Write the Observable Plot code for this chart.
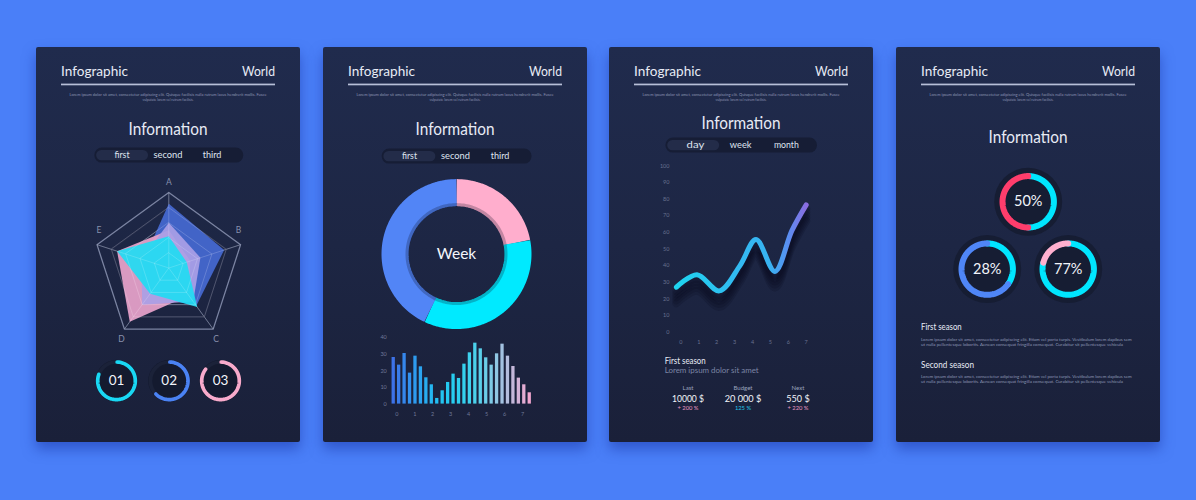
<!DOCTYPE html>
<html><head><meta charset="utf-8">
<script src="https://cdn.jsdelivr.net/npm/d3@7"></script>
<script src="https://cdn.jsdelivr.net/npm/@observablehq/plot@0.6"></script>
<style>
html,body{margin:0;padding:0;background:#4a7ff8;}
#page{position:relative;width:1196px;height:500px;overflow:hidden;background:#4a7ff8;}
.card{position:absolute;top:46.5px;width:264px;height:395px;background:linear-gradient(180deg,#202b4d 0%,#1d2644 50%,#1a2039 100%);box-shadow:0 7px 13px rgba(22,48,160,0.5);border-radius:2px;}
.card svg{position:absolute;left:0;top:0;}
</style></head><body><div id="page"></div>
<script>
// ---------- data ----------
const headerWords = ["Infographic", "World"];
const loremTop = ["Lorem ipsum dolor sit amet, consectetur adipiscing elit. Quisque facilisis nulla rutrum lacus hendrerit mollis. Fusce", "vulputate lorem vel rutrum facilisis."];
const titleText = "Information";
const tabs123 = ["first", "second", "third"];
const tabsTime = ["day", "week", "month"];

const radarAxes = ["A", "B", "C", "D", "E"];
const radarBlue   = [0.85, 0.77, 0.62, 0.45, 0.35];
const radarPink   = [0.50, 0.30, 0.45, 0.88, 0.72];
const radarPurple = [0.60, 0.44, 0.55, 0.60, 0.38];
const radarCyan   = [0.42, 0.25, 0.64, 0.42, 0.72];
const gridLevels = [1, 0.8, 0.6, 0.4, 0.2];

const badgeLabels = ["01", "02", "03"];
const badgeShare = [0.80, 0.62, 0.85];
const badgeColors = ["#19d8f4", "#4a82f4", "#f8aacb"];

const donutCenterLabel = "Week";
const donutValues = [22, 35, 43];
const donutColors = ["#ffaecd", "#00eaff", "#5285f6"];

const barValues = [28, 23.4, 30.4, 18.6, 28.8, 22.4, 15.8, 11.6, 3.4, 8, 13, 18, 15.4, 24, 30.8, 36.6, 33.2, 27.8, 23.4, 30.2, 36, 28.8, 22.6, 15.6, 11.6, 6.8];
const barTicksX = [0, 1, 2, 3, 4, 5, 6, 7];
const barTicksY = [0, 10, 20, 30, 40];

const lineX = [-0.25, 0.9, 2.15, 3.3, 4.2, 5.25, 6.2, 7.0];
const lineY = [27, 34.5, 24.8, 40, 55.7, 36.5, 61, 76.5];
const lineTicksX = [0, 1, 2, 3, 4, 5, 6, 7];
const lineTicksY = [0, 10, 20, 30, 40, 50, 60, 70, 80, 90, 100];

const seasonTitle = "First season";
const seasonSub = "Lorem ipsum dolor sit amet";
const statLabels = ["Last", "Budget", "Next"];
const statValues = ["10000 $", "20 000 $", "550 $"];
const statChanges = ["+ 200 %", "125 %", "+ 220 %"];
const statChangeColors = ["#e99ac3", "#22c8e8", "#e99ac3"];

const pctLabels = ["50%", "28%", "77%"];
const pctCyanShare = [0.50, 0.35, 0.79];
const pctOtherColors = ["#ff3d6c", "#4f86f7", "#ffb0cf"];

const seasons = ["First season", "Second season"];
const loremBody = ["Lorem ipsum dolor sit amet, consectetur adipiscing elit. Etiam vel porta turpis. Vestibulum lorem dapibus sem", "ut nulla pellentesque lobortis. Aenean consequat fringilla consequat. Curabitur sit pellentesque vehicula"];

// ---------- layout helpers ----------
const FONT = "Lato, 'Open Sans', sans-serif";
const W = 264, H = 395;
const cardLeft = [36, 322.7, 609.3, 896];
const page = document.getElementById("page");

function makeCard(i) {
  const div = document.createElement("div");
  div.className = "card";
  div.style.left = cardLeft[i] + "px";
  page.appendChild(div);
  const svg = d3.select(div).append("svg").attr("width", W).attr("height", H);
  return {div, svg};
}
function txt(svg, x, y, s, o = {}) {
  const t = svg.append("text").attr("x", x).attr("y", y).text(s)
    .attr("font-size", o.size || 10).attr("fill", o.fill || "#e7ebf5")
    .attr("text-anchor", o.anchor || "start").attr("font-family", FONT);
  if (o.length) t.attr("textLength", o.length).attr("lengthAdjust", "spacingAndGlyphs");
  return t;
}
function header(svg) {
  txt(svg, 25, 28.5, headerWords[0], {size: 13, length: 67});
  txt(svg, 239, 28.5, headerWords[1], {size: 13, anchor: "end", length: 33});
  svg.append("rect").attr("x", 25).attr("y", 36.6).attr("width", 214).attr("height", 1.7).attr("fill", "#b7bfd8");
  txt(svg, 132, 49.3, loremTop[0], {size: 3.8, fill: "#8d96b4", anchor: "middle", length: 197});
  txt(svg, 132, 54.3, loremTop[1], {size: 3.8, fill: "#8d96b4", anchor: "middle", length: 51});
}
function title(svg, y) { txt(svg, 132, y, titleText, {size: 16.5, anchor: "middle", length: 79}); }
function tabBar(svg, x0, y0, w, labels, centers, widths) {
  svg.append("rect").attr("x", x0).attr("y", y0).attr("width", w).attr("height", 15).attr("rx", 7.5).attr("fill", "#161d35");
  svg.append("rect").attr("x", x0 + 1.8).attr("y", y0 + 2.3).attr("width", 52).attr("height", 10.4).attr("rx", 5.2).attr("fill", "#232c49");
  labels.forEach((l, i) => txt(svg, centers[i], y0 + 10.8, l, {size: 9.5, anchor: "middle", fill: "#dfe4f0", length: widths[i]}));
}
function arcPts(cx, cy, r, a0, a1) {
  const n = Math.max(2, Math.ceil(Math.abs(a1 - a0) / 2));
  return d3.range(n + 1).map(k => {
    const a = (a0 + (a1 - a0) * k / n) * Math.PI / 180;
    return {x: cx + r * Math.sin(a), y: cy - r * Math.cos(a)};
  });
}
const pixelScales = {
  x: {domain: [0, W], range: [0, W], axis: null},
  y: {domain: [0, H], range: [0, H], axis: null}
};
function addPlot(div, opts) {
  const p = Plot.plot(Object.assign({
    width: W, height: H, margin: 0,
    style: {background: "transparent", overflow: "visible", fontFamily: FONT}
  }, opts));
  div.appendChild(p);
  return p;
}

// ---------- card 1 ----------
{
  const {div, svg} = makeCard(0);
  header(svg); title(svg, 87.6);
  tabBar(svg, 58.3, 100.6, 149, tabs123, [86, 132, 176], [15, 29, 18.7]);

  const cx = 132.3, cy = 220.5, R = 75.5;
  const polar = (i, r) => {
    const a = i * 2 * Math.PI / 5;
    return {x: cx + r * R * Math.sin(a), y: cy - r * R * Math.cos(a)};
  };
  const grid = gridLevels.flatMap(l => radarAxes.map((a, i) => ({...polar(i, l), level: l})));
  const spokes = radarAxes.map((a, i) => ({x1: cx, y1: cy, x2: polar(i, 1).x, y2: polar(i, 1).y}));
  const poly = vals => vals.map((v, i) => polar(i, v));
  const labelDy = [-10, -14, 10, 10, -14];
  const labelDx = [0, -2, 3, -3, 2];
  addPlot(div, {
    ...pixelScales,
    marks: [
      Plot.line(grid.filter(d => d.level < 0.7), {x: "x", y: "y", z: "level", curve: "linear-closed", stroke: "#56607f", strokeWidth: 0.9}),
      Plot.link(spokes, {x1: "x1", y1: "y1", x2: "x2", y2: "y2", stroke: "#56607f", strokeWidth: 0.9}),
      Plot.line(grid.filter(d => d.level === 0.8), {x: "x", y: "y", curve: "linear-closed", stroke: "#2b3250", strokeWidth: 1.2}),
      Plot.line(grid.filter(d => d.level === 1), {x: "x", y: "y", curve: "linear-closed", stroke: "#7b84a2", strokeWidth: 1.3}),
      Plot.line(poly(radarBlue), {x: "x", y: "y", curve: "linear-closed", fill: "#4467cf", fillOpacity: 0.95, stroke: "none"}),
      Plot.line(poly(radarPink), {x: "x", y: "y", curve: "linear-closed", fill: "#e4a0c8", fillOpacity: 0.95, stroke: "none"}),
      Plot.line(poly(radarPurple), {x: "x", y: "y", curve: "linear-closed", fill: "#aa9fe6", fillOpacity: 0.92, stroke: "none"}),
      Plot.line(poly(radarCyan), {x: "x", y: "y", curve: "linear-closed", fill: "#22dbf2", fillOpacity: 0.93, stroke: "none"}),
      Plot.line(grid.filter(d => d.level < 0.9), {x: "x", y: "y", z: "level", curve: "linear-closed", stroke: "#ffffff", strokeOpacity: 0.22, strokeWidth: 0.8}),
      Plot.link(spokes, {x1: "x1", y1: "y1", x2: "x2", y2: "y2", stroke: "#ffffff", strokeOpacity: 0.22, strokeWidth: 0.8}),
      Plot.text(radarAxes, {x: (d, i) => polar(i, 1).x + labelDx[i], y: (d, i) => polar(i, 1).y + labelDy[i], text: d => d, fill: "#8891ad", fontSize: 8.5})
    ]
  });

  const bx = [80, 132.7, 184], by = 333.3, br = 18.8;
  addPlot(div, {
    ...pixelScales,
    marks: [
      Plot.dot(badgeLabels, {x: (d, i) => bx[i], y: by, r: 21, fill: "#141a2f"}),
      Plot.dot(badgeLabels, {x: (d, i) => bx[i], y: by, r: br, stroke: "#1b2239", strokeWidth: 3.7, fill: "none"}),
      ...badgeLabels.map((l, i) => Plot.line(arcPts(bx[i], by, br, 2, 2 + badgeShare[i] * 360), {x: "x", y: "y", stroke: badgeColors[i], strokeWidth: 3.7, strokeLinecap: "round"})),
      Plot.text(badgeLabels, {x: (d, i) => bx[i], y: by, text: d => d, fill: "#f2f4fa", fontSize: 13.5})
    ]
  });
}

// ---------- card 2 ----------
{
  const {div, svg} = makeCard(1);
  header(svg); title(svg, 88.3);
  tabBar(svg, 58.6, 101.6, 150, tabs123, [86.5, 132.5, 177], [15, 29, 18.7]);

  const cx = 133, cy = 206.6, rMid = 61.5, ringW = 27;
  const total = d3.sum(donutValues);
  let acc = 0;
  const segs = donutValues.map((v, i) => { const a0 = acc / total * 360; acc += v; return {a0, a1: acc / total * 360, c: donutColors[i]}; });
  addPlot(div, {
    ...pixelScales,
    marks: [
      ...segs.map(s => Plot.line(arcPts(cx, cy, rMid, s.a0, s.a1), {x: "x", y: "y", stroke: s.c, strokeWidth: ringW, strokeLinecap: "butt"})),
      Plot.line(arcPts(cx, cy, rMid - ringW / 2 + 1.5, 0, 360), {x: "x", y: "y", stroke: "#0c1024", strokeOpacity: 0.25, strokeWidth: 3}),
      Plot.text([donutCenterLabel], {x: cx, y: cy, text: d => d, fill: "#f4f6fb", fontSize: 15.5})
    ]
  });

  const barColor = d3.interpolateRgbBasis(["#3d72e8", "#2aa6f2", "#1ccff2", "#3fd4ec", "#a8c4e2", "#f2a6cf"]);
  const barStart = -0.2, barStep = 0.303;
  addPlot(div, {
    x: {domain: [0, 7], range: [73.3, 199], axis: null},
    y: {domain: [0, 40], range: [356.6, 290], axis: null},
    color: {type: "identity"},
    marks: [
      Plot.ruleX(barValues, {x: (d, i) => barStart + i * barStep, y1: 0, y2: d => d, stroke: (d, i) => barColor(i / (barValues.length - 1)), strokeWidth: 3.3}),
      Plot.text(barTicksY, {x: 0, y: d => d, dx: -10, text: d => String(d), textAnchor: "end", fill: "#6f7898", fontSize: 5.5}),
      Plot.text(barTicksX, {x: d => d, y: 0, dy: 10, text: d => String(d), fill: "#6f7898", fontSize: 5.5})
    ]
  });
}

// ---------- card 3 ----------
{
  const {div, svg} = makeCard(2);
  header(svg); title(svg, 81.6);
  tabBar(svg, 56.4, 90.6, 151.6, tabsTime, [86.4, 131.7, 177.4], [17.7, 21.7, 25]);

  const pts = lineX.map((x, i) => ({x, y: lineY[i]}));
  const shadowOffsets = [4, 7, 10, 13, 16];
  const p = addPlot(div, {
    x: {domain: [0, 7], range: [71.4, 196.7], axis: null},
    y: {domain: [0, 100], range: [284.6, 118.3], axis: null},
    marks: [
      ...shadowOffsets.map(o => Plot.line(pts, {x: "x", y: "y", curve: "catmull-rom", stroke: "#060919", strokeOpacity: 0.16, strokeWidth: 8, dy: o})),
      Plot.line(pts, {x: "x", y: "y", curve: "catmull-rom", stroke: "url(#lineGrad)", strokeWidth: 5, strokeLinecap: "round"}),
      Plot.text(lineTicksY, {x: 0, y: d => d, dx: -11.4, text: d => String(d), textAnchor: "end", fill: "#68718f", fontSize: 5.5}),
      Plot.text(lineTicksX, {x: d => d, y: 0, dy: 10.4, text: d => String(d), fill: "#68718f", fontSize: 5.5})
    ]
  });
  const ps = d3.select(p);
  const g = ps.insert("defs", ":first-child").append("linearGradient")
    .attr("id", "lineGrad").attr("gradientUnits", "userSpaceOnUse")
    .attr("x1", 66).attr("x2", 197).attr("y1", 0).attr("y2", 0);
  [[0, "#1ed4f0"], [0.5, "#33b9f1"], [0.72, "#38b2f1"], [0.86, "#5a8ef1"], [1, "#8a6ce0"]]
    .forEach(([o, c]) => g.append("stop").attr("offset", o).attr("stop-color", c));

  txt(svg, 55.7, 316.8, seasonTitle, {size: 9, length: 41});
  txt(svg, 55.7, 326.3, seasonSub, {size: 8, fill: "#7b85a5", length: 94});
  const sx = [79, 134, 189], vw = [32, 36.7, 23.3];
  statLabels.forEach((l, i) => {
    txt(svg, sx[i], 343.3, l, {size: 6, anchor: "middle", fill: "#9aa3bd"});
    txt(svg, sx[i], 355, statValues[i], {size: 10, anchor: "middle", fill: "#f2f4fa", length: vw[i]});
    txt(svg, sx[i], 363.3, statChanges[i], {size: 5.8, anchor: "middle", fill: statChangeColors[i]});
  });
}

// ---------- card 4 ----------
{
  const {div, svg} = makeCard(3);
  header(svg); title(svg, 96.3);
  const gx = [131.7, 90.7, 171.7], gy = [154.3, 221.6, 221.6], gr = 25.7, gw = 6;
  addPlot(div, {
    ...pixelScales,
    marks: [
      Plot.dot(pctLabels, {x: (d, i) => gx[i], y: (d, i) => gy[i], r: 34, fill: "#161d33"}),
      ...pctLabels.flatMap((l, i) => [
        Plot.line(arcPts(gx[i], gy[i], gr, 0, pctCyanShare[i] * 360), {x: "x", y: "y", stroke: "#00e6ff", strokeWidth: gw}),
        Plot.line(arcPts(gx[i], gy[i], gr, pctCyanShare[i] * 360, 360), {x: "x", y: "y", stroke: pctOtherColors[i], strokeWidth: gw})
      ]),
      Plot.text(pctLabels, {x: (d, i) => gx[i], y: (d, i) => gy[i], text: d => d, fill: "#f2f4fa", fontSize: 14.5})
    ]
  });
  const base = [283.3, 320.8], tw = [40.7, 53];
  seasons.forEach((s, k) => {
    txt(svg, 25, base[k], s, {size: 9, length: tw[k]});
    txt(svg, 25, base[k] + 10.2, loremBody[0], {size: 4, fill: "#8d96b4", length: 210.7});
    txt(svg, 25, base[k] + 15.3, loremBody[1], {size: 4, fill: "#8d96b4", length: 202});
  });
}
</script></body></html>
